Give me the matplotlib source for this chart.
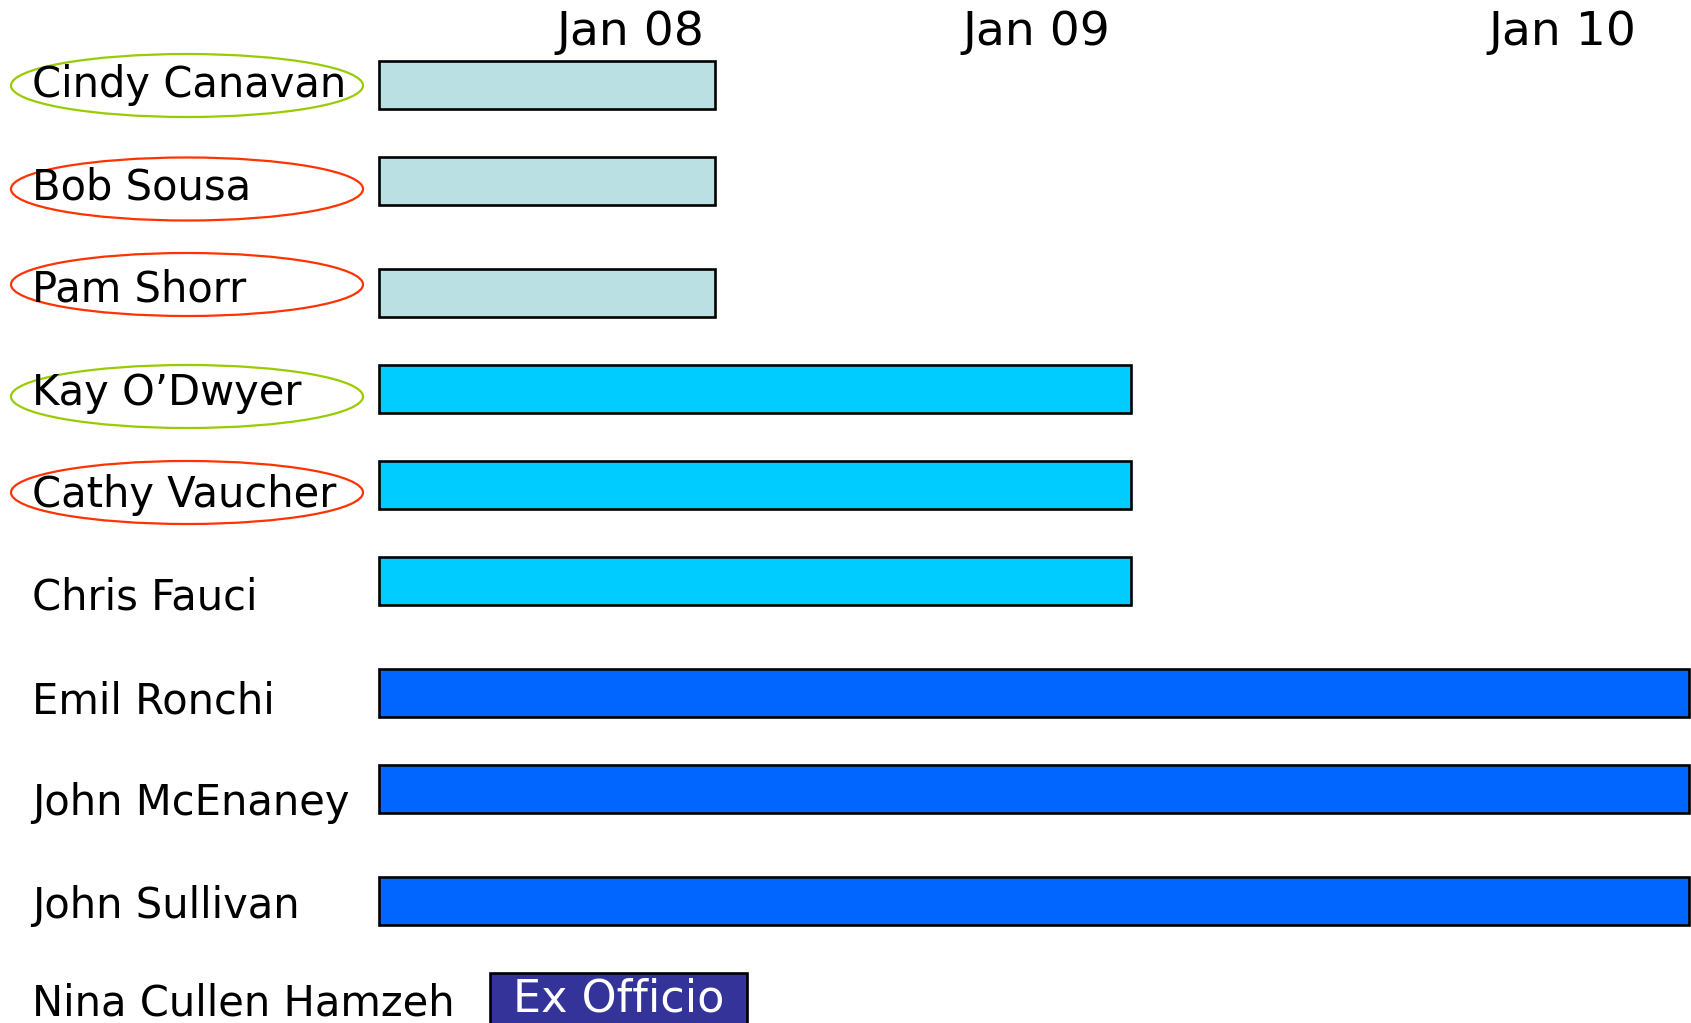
import matplotlib
matplotlib.use("Agg")
import matplotlib.pyplot as plt
from matplotlib.patches import Ellipse

# ---------------- data ----------------
names = ["Cindy Canavan", "Bob Sousa", "Pam Shorr", "Kay O\u2019Dwyer", "Cathy Vaucher",
         "Chris Fauci", "Emil Ronchi", "John McEnaney", "John Sullivan", "Nina Cullen Hamzeh"]
term_start = [0, 0, 0, 0, 0, 0, 0, 0, 0]
term_end = [1.0, 1.0, 1.0, 2.24, 2.24, 2.24, 3.9, 3.9, 3.9]
bar_colors = ["#BBE0E3", "#BBE0E3", "#BBE0E3", "#00CCFF", "#00CCFF", "#00CCFF",
              "#0066FF", "#0066FF", "#0066FF"]
circle_colors = ["#99CC00", "#FF3300", "#FF3300", "#99CC00", "#FF3300"]
tick_labels = ["Jan 08", "Jan 09", "Jan 10"]
tick_pos = [0.751, 1.957, 3.522]
exofficio_label = "Ex Officio"
exofficio_span = [0.332, 1.097]

# ---------------- layout (pixels) ----------------
W, H = 1691, 1023
bar_centers = [85, 181, 293, 389, 485, 581, 693, 789, 901]
bar_h = 48
name_baselines = [97, 199, 302, 405, 507, 609, 713, 815, 918, 1015]
ellipse_centers = [85.5, 189, 284.5, 396.5, 492.5]
px_per_unit = 336.0
x0_px = 378.5

fig = plt.figure(figsize=(W / 100, H / 100), dpi=100)
ax = fig.add_axes([0, 0, 1, 1])
ax.set_xlim(-x0_px / px_per_unit, (W - x0_px) / px_per_unit)
ax.set_ylim(H, 0)
ax.axis("off")

ov = fig.add_axes([0, 0, 1, 1], zorder=3)
ov.set_xlim(0, W)
ov.set_ylim(H, 0)
ov.axis("off")
ov.patch.set_alpha(0)

font = "DejaVu Sans"

# bars
for s, e, c, yc in zip(term_start, term_end, bar_colors, bar_centers):
    ax.barh(yc, e - s, left=s, height=bar_h, color=c, edgecolor="black", linewidth=1.9)

# Ex Officio bar
ax.barh(999, exofficio_span[1] - exofficio_span[0], left=exofficio_span[0], height=52,
        color="#333399", edgecolor="black", linewidth=1.9)
ax.text((exofficio_span[0] + exofficio_span[1]) / 2, 1011, exofficio_label, color="white",
        fontsize=32, ha="center", va="baseline", family=font)

# tick labels
for t, lab in zip(tick_pos, tick_labels):
    ax.text(t, 45, lab, fontsize=34, ha="center", va="baseline", family=font)

# names
for nm, yb in zip(names, name_baselines):
    ov.text(32, yb, nm, fontsize=30, ha="left", va="baseline", family=font)

# ellipses
for c, yc in zip(circle_colors, ellipse_centers):
    ov.add_patch(Ellipse((187, yc), 352, 63, fill=False, edgecolor=c, linewidth=1.6))

fig.savefig("out.png", dpi=100, facecolor="white")
